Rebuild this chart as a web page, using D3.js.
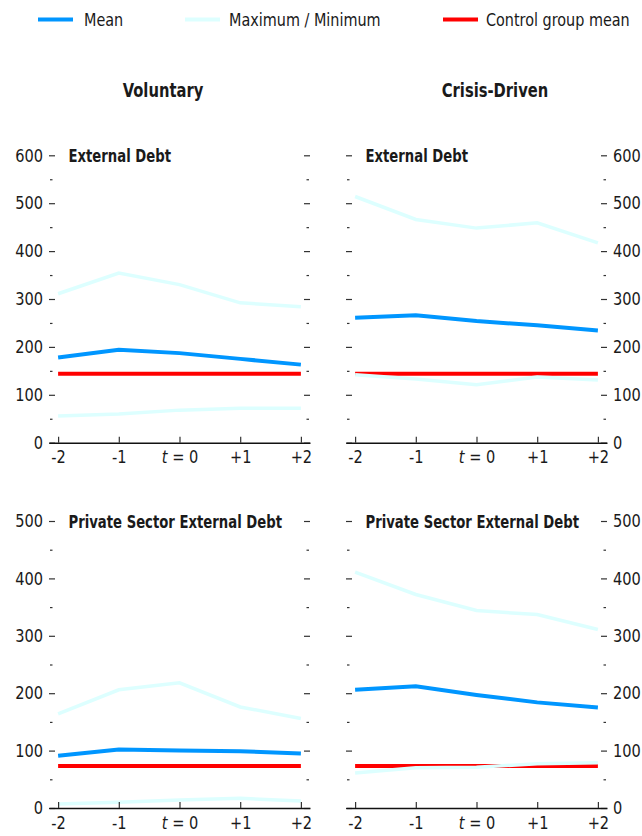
<html>
<head>
<meta charset="utf-8">
<title>External debt around restructurings</title>
<script src="https://cdn.jsdelivr.net/npm/d3@7"></script>
<style>
  body { margin: 0; background: #fff; }
  text { font-family: "DejaVu Sans Condensed", "DejaVu Sans", sans-serif; font-stretch: condensed; fill: #1a1a1a; }
</style>
</head>
<body>
<svg width="642" height="836"></svg>
<script>
// periods around the event
var periods = ["-2", "-1", "0", "+1", "+2"];

// Voluntary, external debt
var volExtMax  = [311, 354, 330, 292, 284];
var volExtMean = [178, 194, 187, 175, 163];
var volExtMin  = [56, 60, 68, 72, 72];
var volExtCtrl = [144, 144, 144, 144, 144];

// Crisis-driven, external debt
var criExtMax  = [514, 466, 448, 459, 417];
var criExtMean = [261, 266, 254, 245, 234];
var criExtMin  = [142, 133, 121, 137, 131];
var criExtCtrl = [144, 144, 144, 144, 144];

// Voluntary, private sector external debt
var volPrivMax  = [164, 206, 218, 176, 156];
var volPrivMean = [91, 102, 100, 99, 95];
var volPrivMin  = [7, 10, 14, 17, 12];
var volPrivCtrl = [73, 73, 73, 73, 73];

// Crisis-driven, private sector external debt
var criPrivMax  = [411, 372, 344, 337, 311];
var criPrivMean = [206, 212, 197, 184, 175];
var criPrivMin  = [61, 70, 71, 77, 79];
var criPrivCtrl = [73, 73, 73, 73, 73];

var columns = ["Voluntary", "Crisis-Driven"];
var topTicks = [0, 100, 200, 300, 400, 500, 600];
var bottomTicks = [0, 100, 200, 300, 400, 500];

var blue = "#0096ff", cyan = "#ddffff", red = "#ff0000";

var svg = d3.select("svg");

// the reference uses a narrow face; squeeze the text horizontally around its anchor
function squeeze(sel, k) {
  sel.each(function() {
    var t = d3.select(this);
    var x = +t.attr("x") || 0, y = +t.attr("y") || 0;
    t.attr("x", 0).attr("y", 0)
     .attr("transform", "translate(" + x + "," + y + ") scale(" + k + ",1)");
  });
}

var panels = [
  {title: "External Debt", side: "left", x0: 49, x1: 310, y0: 442.7, y1: 155.3, max: 600, ticks: topTicks,
   hi: volExtMax, mean: volExtMean, lo: volExtMin, ctrl: volExtCtrl},
  {title: "External Debt", side: "right", x0: 346, x1: 607, y0: 442.7, y1: 155.3, max: 600, ticks: topTicks,
   hi: criExtMax, mean: criExtMean, lo: criExtMin, ctrl: criExtCtrl},
  {title: "Private Sector External Debt", side: "left", x0: 49, x1: 310, y0: 808, y1: 521, max: 500, ticks: bottomTicks,
   hi: volPrivMax, mean: volPrivMean, lo: volPrivMin, ctrl: volPrivCtrl},
  {title: "Private Sector External Debt", side: "right", x0: 346, x1: 607, y0: 808, y1: 521, max: 500, ticks: bottomTicks,
   hi: criPrivMax, mean: criPrivMean, lo: criPrivMin, ctrl: criPrivCtrl}
];

// legend
var legend = [
  {label: "Mean", color: blue, x: 38, tx: 84},
  {label: "Maximum / Minimum", color: cyan, x: 185, tx: 229},
  {label: "Control group mean", color: red, x: 443, tx: 486}
];
var lg = svg.append("g");
legend.forEach(function(d) {
  lg.append("line").attr("x1", d.x).attr("x2", d.x + 35).attr("y1", 19.5).attr("y2", 19.5)
    .attr("stroke", d.color).attr("stroke-width", 4);
  lg.append("text").attr("class", "lgtext").attr("x", d.tx).attr("y", 19.5).attr("dy", "0.36em")
    .style("font-size", "18px").text(d.label);
});
squeeze(lg.selectAll(".lgtext"), 0.89);

// column headers
var heads = svg.selectAll(".colhead").data(columns).enter().append("text")
  .attr("class", "colhead")
  .attr("x", function(d, i) { return i === 0 ? 163 : 495; })
  .attr("y", 96.5)
  .attr("text-anchor", "middle")
  .style("font-size", "20px").style("font-weight", "bold")
  .text(function(d) { return d; });
squeeze(heads, 0.82);

panels.forEach(function(p) {
  var g = svg.append("g");
  var x = d3.scalePoint().domain(periods).range([p.x0, p.x1]).padding(0.15);
  var y = d3.scaleLinear().domain([0, p.max]).range([p.y0, p.y1]);
  var minor = d3.range(50, p.max, 100);

  // y ticks on both sides, labels on the outer side
  var leftAx = d3.axisLeft(y).tickValues(p.ticks).tickSize(-6).tickPadding(6);
  var rightAx = d3.axisRight(y).tickValues(p.ticks).tickSize(-6).tickPadding(6);
  if (p.side === "left") rightAx.tickFormat(""); else leftAx.tickFormat("");
  var la = g.append("g").attr("transform", "translate(" + p.x0 + ",0)").call(leftAx);
  var ra = g.append("g").attr("transform", "translate(" + p.x1 + ",0)").call(rightAx);
  var lm = g.append("g").attr("transform", "translate(" + (p.x0 + 1) + ",0)")
    .call(d3.axisLeft(y).tickValues(minor).tickSize(-2.5).tickFormat(""));
  var rm = g.append("g").attr("transform", "translate(" + (p.x1 - 1) + ",0)")
    .call(d3.axisRight(y).tickValues(minor).tickSize(-2.5).tickFormat(""));
  [la, ra, lm, rm].forEach(function(a) {
    a.select(".domain").remove();
    a.selectAll("line").attr("stroke", "#333").attr("stroke-width", 1.2);
    a.selectAll("text").style("font-size", "18px").style("font-family", null);
    squeeze(a.selectAll("text"), 0.9);
  });

  // title
  var tt = g.append("text").attr("x", p.x0 + 19.5).attr("y", p.y1 + 6.5)
    .style("font-size", "17px").style("font-weight", "bold").text(p.title);
  squeeze(tt, 0.865);

  // series
  var line = d3.line().x(function(d, i) { return x(periods[i]); }).y(function(d) { return y(d); });
  g.append("path").datum(p.ctrl).attr("d", line).attr("fill", "none").attr("stroke", red).attr("stroke-width", 4);
  [p.hi, p.lo].forEach(function(s) {
    g.append("path").datum(s).attr("d", line).attr("fill", "none").attr("stroke", cyan).attr("stroke-width", 3.5);
  });
  g.append("path").datum(p.mean).attr("d", line).attr("fill", "none").attr("stroke", blue).attr("stroke-width", 4);

  // x axis
  var xa = g.append("g").attr("transform", "translate(0," + p.y0 + ")")
    .call(d3.axisBottom(x).tickSizeInner(-6).tickSizeOuter(0).tickPadding(8));
  xa.select(".domain").attr("stroke", "#111").attr("stroke-width", 1.5);
  xa.selectAll("line").attr("stroke", "#333").attr("stroke-width", 1.2);
  xa.selectAll("text").style("font-size", "18px").style("font-family", null)
    .each(function(d) {
      if (d === "0") {
        var t = d3.select(this).text("");
        t.append("tspan").style("font-style", "italic").text("t");
        t.append("tspan").text(" = 0");
      }
    });
  squeeze(xa.selectAll("text"), 0.9);
});
</script>
</body>
</html>
